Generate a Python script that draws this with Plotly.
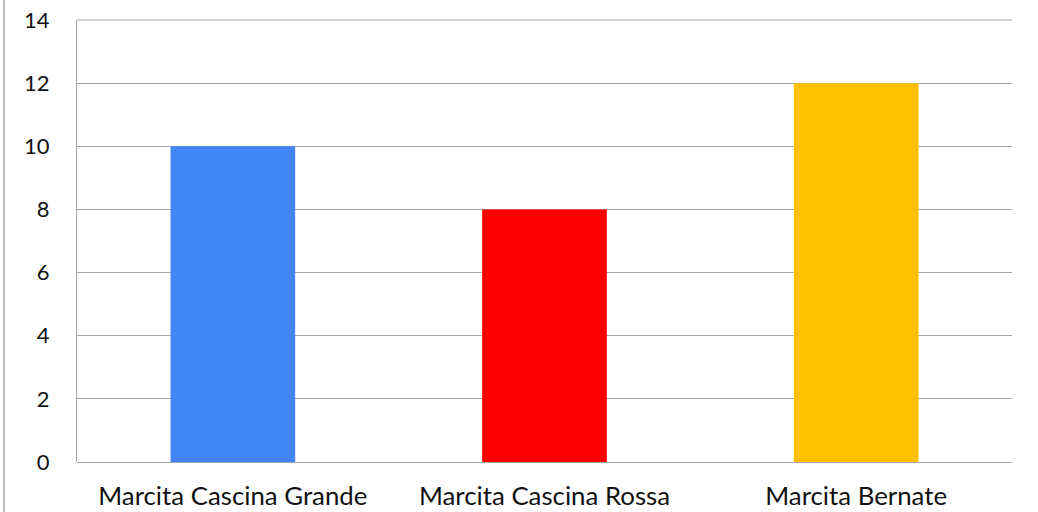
import plotly.graph_objects as go

categories = ["Marcita Cascina Grande", "Marcita Cascina Rossa", "Marcita Bernate"]
values = [10, 8, 12]
colors = ["#4285F4", "#FF0000", "#FFC000"]
y_ticks = [0, 2, 4, 6, 8, 10, 12, 14]

W, H = 1038, 512
L, R, T, B = 77, 26, 20, 50

fig = go.Figure(go.Bar(x=categories, y=values, marker=dict(color=colors, line=dict(width=0))))

pw = W - L - R
ph = H - T - B
grid = "#A6A6A6"
fig.update_layout(
    width=W, height=H,
    margin=dict(l=L, r=R, t=T, b=B, pad=0),
    paper_bgcolor="white", plot_bgcolor="white",
    bargap=0.6,
    showlegend=False,
    font=dict(family="Lato, Open Sans, sans-serif", size=22, color="#111111"),
    xaxis=dict(showgrid=False, showline=False, zeroline=False, ticks="", automargin=False,
               tickfont=dict(size=25.8), ticklabelstandoff=16),
    yaxis=dict(range=[0, 14], tickvals=y_ticks, showgrid=True, gridcolor=grid, gridwidth=1,
               zeroline=True, zerolinecolor=grid, zerolinewidth=1, automargin=False,
               showline=True, linecolor=grid, linewidth=1, ticks="",
               ticklabelstandoff=22, tickfont=dict(size=22)),
    shapes=[
        dict(type="line", xref="paper", yref="paper",
             x0=(4 - L) / pw, x1=(4 - L) / pw, y0=(H - B - 0) / ph, y1=(H - B - H) / ph,
             line=dict(color=grid, width=1.5)),
        dict(type="line", xref="paper", yref="paper", x0=0, x1=1, y0=1, y1=1,
             line=dict(color=grid, width=1)),
    ],
)

fig.write_html("out.html", config={"displayModeBar": False},
               post_script="document.body.style.margin='0';document.body.style.overflow='hidden';")
